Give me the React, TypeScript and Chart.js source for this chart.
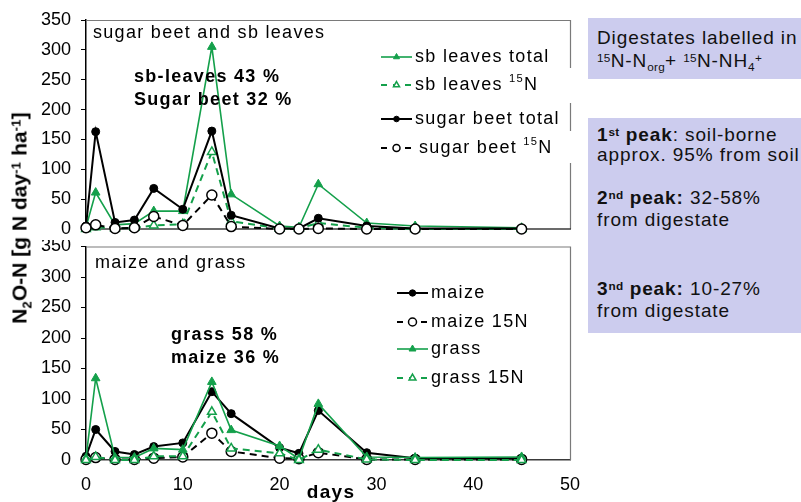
import React, { useEffect, useRef } from 'react';
import { Chart, registerables } from 'chart.js';

Chart.register(...registerables);

const FONT = '"Liberation Sans", Arial, Helvetica, sans-serif';
const GREEN = '#14a04b';
const BLACK = '#000000';
const FRAME = '#7a7a7a';

// ---- data ----
const days = [0, 1, 3, 5, 7, 10, 13, 15, 20, 22, 24, 29, 34, 45];

const sbLeavesTotal = [3, 61, 7, 9, 30, 30, 305, 58, 5, 3, 75, 10, 5, 2];
const sbLeaves15N = [0, 3, 1, 2, 6, 8, 129, 13, 1, 1, 10, 2, 0, 0];
const sugarBeetTotal = [5, 163, 11, 15, 68, 33, 164, 23, 1, 1, 18, 5, 1, 1];
const sugarBeet15N = [2, 7, 1, 2, 21, 6, 57, 4, 0, 0, 1, 0, 0, 0];

const maizeTotal = [6, 50, 14, 9, 22, 28, 112, 76, 20, 11, 81, 12, 3, 3];
const maize15N = [1, 4, 1, 1, 3, 5, 44, 14, 3, 2, 12, 1, 1, 1];
const grassTotal = [3, 134, 4, 4, 19, 17, 128, 49, 23, 2, 92, 5, 4, 5];
const grass15N = [0, 5, 0, 0, 6, 6, 79, 19, 11, 0, 17, 1, 0, 0];

const yTickValues = [0, 50, 100, 150, 200, 250, 300, 350];
const xTickValues = [0, 10, 20, 30, 40, 50];

const topTitle = 'sugar beet and sb leaves';
const topNote = ['sb-leaves 43 %', 'Sugar beet 32 %'];
const bottomTitle = 'maize and grass';
const bottomNote = ['grass 58 %', 'maize 36 %'];
const xTitle = 'days';

type Seg = { t: string; sup?: boolean };

const topLegend: Seg[][] = [
  [{ t: 'sb leaves total' }],
  [{ t: 'sb leaves ' }, { t: '15', sup: true }, { t: 'N' }],
  [{ t: 'sugar beet total' }],
  [{ t: 'sugar beet ' }, { t: '15', sup: true }, { t: 'N' }],
];
const bottomLegend: Seg[][] = [
  [{ t: 'maize' }],
  [{ t: 'maize 15N' }],
  [{ t: 'grass' }],
  [{ t: 'grass 15N' }],
];

// ---- helpers ----
function makeDataset(label: string, values: number[], total: boolean, color: string, style: string, order: number) {
  return {
    label,
    data: days.map((d, i) => ({ x: d, y: values[i] })),
    borderColor: color,
    backgroundColor: color,
    borderWidth: total && color === GREEN ? 1.6 : 2,
    borderDash: total ? [] : [7, 5],
    pointStyle: style,
    pointRadius: style === 'circle' ? (total ? 4 : 5) : 5,
    pointBackgroundColor: total ? color : '#ffffff',
    pointBorderColor: color,
    pointBorderWidth: total ? 1 : 1.5,
    tension: 0,
    clip: false as const,
    order,
  };
}

function drawRich(ctx: any, segs: Seg[], x: number, y: number, size: number, bold: boolean) {
  let cx = x;
  for (const s of segs) {
    const fs = s.sup ? size * 0.62 : size;
    ctx.font = `${bold ? 'bold ' : ''}${fs}px ${FONT}`;
    ctx.fillText(s.t, cx, s.sup ? y - size * 0.33 : y);
    cx += ctx.measureText(s.t).width;
  }
}

function drawMarker(ctx: any, ds: any, x: number, y: number, scale: number) {
  ctx.save();
  ctx.setLineDash([]);
  ctx.fillStyle = ds.pointBackgroundColor;
  ctx.strokeStyle = ds.pointBorderColor;
  ctx.lineWidth = ds.pointBorderWidth;
  const r = ds.pointRadius * scale;
  ctx.beginPath();
  if (ds.pointStyle === 'circle') {
    ctx.arc(x, y, r, 0, Math.PI * 2);
  } else {
    let rad = 0;
    ctx.moveTo(x + Math.sin(rad) * r, y - Math.cos(rad) * r);
    rad += (2 * Math.PI) / 3;
    ctx.lineTo(x + Math.sin(rad) * r, y - Math.cos(rad) * r);
    rad += (2 * Math.PI) / 3;
    ctx.lineTo(x + Math.sin(rad) * r, y - Math.cos(rad) * r);
    ctx.closePath();
  }
  ctx.fill();
  ctx.stroke();
  ctx.restore();
}

interface OverlayCfg {
  id: string;
  bottomLine: boolean;
  legend: Seg[][];
  legendY: number[];
  legendTextX: number[];
  lineX0: number;
  lineX1: number;
  markerScale: number;
  whiteBoxes: [number, number, number, number][];
  title: string;
  titleX: number;
  titleY: number;
  note: string[];
  noteX: number;
  noteY: number[];
  axisTitle?: { text: string; x: number; y: number };
}

function overlayPlugin(cfg: OverlayCfg) {
  return {
    id: cfg.id,
    beforeDatasetsDraw(chart: any) {
      const { ctx, chartArea: a } = chart;
      ctx.save();
      ctx.strokeStyle = FRAME;
      ctx.lineWidth = 1.2;
      ctx.beginPath();
      ctx.moveTo(a.left, a.top + 0.5);
      ctx.lineTo(a.right + 0.5, a.top + 0.5);
      ctx.lineTo(a.right + 0.5, a.bottom);
      ctx.stroke();
      if (cfg.bottomLine) {
        ctx.strokeStyle = '#3a3a3a';
        ctx.lineWidth = 1.5;
        ctx.beginPath();
        ctx.moveTo(a.left, a.bottom);
        ctx.lineTo(a.right + 1, a.bottom);
        ctx.stroke();
      }
      ctx.restore();
    },
    afterDatasetsDraw(chart: any) {
      const { ctx } = chart;
      ctx.save();
      ctx.letterSpacing = '1.3px';
      ctx.textBaseline = 'middle';
      ctx.textAlign = 'left';
      ctx.fillStyle = '#fff';
      cfg.whiteBoxes.forEach(([x, y, w, h]) => ctx.fillRect(x, y, w, h));
      ctx.fillStyle = '#000';
      cfg.legend.forEach((segs, i) => {
        const ds = chart.data.datasets[i];
        const y = cfg.legendY[i];
        ctx.save();
        ctx.strokeStyle = ds.borderColor;
        ctx.lineWidth = ds.borderWidth;
        ctx.setLineDash(ds.borderDash && ds.borderDash.length ? [6, 6] : []);
        ctx.beginPath();
        ctx.moveTo(cfg.lineX0, y);
        ctx.lineTo(cfg.lineX1, y);
        ctx.stroke();
        ctx.restore();
        drawMarker(ctx, ds, (cfg.lineX0 + cfg.lineX1) / 2, y, cfg.markerScale);
        ctx.fillStyle = '#000';
        drawRich(ctx, segs, cfg.legendTextX[i], y, 18, false);
      });
      ctx.font = `18px ${FONT}`;
      ctx.fillText(cfg.title, cfg.titleX, cfg.titleY);
      ctx.font = `bold 18px ${FONT}`;
      cfg.note.forEach((t, i) => ctx.fillText(t, cfg.noteX, cfg.noteY[i]));
      if (cfg.axisTitle) {
        ctx.font = `bold 19px ${FONT}`;
        ctx.textAlign = 'center';
        ctx.fillText(cfg.axisTitle.text, cfg.axisTitle.x, cfg.axisTitle.y);
      }
      ctx.restore();
    },
  };
}

function yScale() {
  return {
    min: 0,
    max: 350,
    afterBuildTicks: (s: any) => {
      s.ticks = yTickValues.map((v) => ({ value: v }));
    },
    afterFit: (s: any) => {
      s.width = 86;
      s.paddingTop = 0;
      s.paddingBottom = 0;
      s.paddingLeft = 0;
      s.paddingRight = 0;
    },
    ticks: { color: '#000', font: { family: FONT, size: 18 }, padding: 10 },
    grid: { drawOnChartArea: false, drawTicks: true, tickLength: 5, color: '#000', lineWidth: 1 },
    border: { display: true, color: '#000', width: 1.5 },
  };
}

function buildConfig(datasets: any[], xScale: any, padding: any, plugin: any) {
  return {
    type: 'line' as const,
    data: { datasets },
    options: {
      responsive: false,
      animation: false as const,
      events: [] as any[],
      layout: { padding },
      plugins: { legend: { display: false }, tooltip: { enabled: false } },
      scales: { x: xScale, y: yScale() },
    },
    plugins: [plugin],
  };
}

export default function App() {
  const topRef = useRef<HTMLCanvasElement>(null);
  const botRef = useRef<HTMLCanvasElement>(null);

  useEffect(() => {
    const topDatasets = [
      makeDataset('sb leaves total', sbLeavesTotal, true, GREEN, 'triangle', 3),
      makeDataset('sb leaves 15N', sbLeaves15N, false, GREEN, 'triangle', 2),
      makeDataset('sugar beet total', sugarBeetTotal, true, BLACK, 'circle', 1),
      makeDataset('sugar beet 15N', sugarBeet15N, false, BLACK, 'circle', 0),
    ];
    const botDatasets = [
      makeDataset('maize', maizeTotal, true, BLACK, 'circle', 3),
      makeDataset('maize 15N', maize15N, false, BLACK, 'circle', 2),
      makeDataset('grass', grassTotal, true, GREEN, 'triangle', 1),
      makeDataset('grass 15N', grass15N, false, GREEN, 'triangle', 0),
    ];

    const topPlugin = overlayPlugin({
      id: 'topOverlay',
      bottomLine: true,
      legend: topLegend,
      legendY: [57, 85, 119, 148],
      legendTextX: [415, 415, 415, 419],
      lineX0: 381,
      lineX1: 412,
      markerScale: 0.7,
      whiteBoxes: [
        [400, 68, 176, 35],
        [400, 131, 176, 32],
      ],
      title: topTitle,
      titleX: 93,
      titleY: 33,
      note: topNote,
      noteX: 134,
      noteY: [77, 100],
    });
    const botPlugin = overlayPlugin({
      id: 'botOverlay',
      bottomLine: false,
      legend: bottomLegend,
      legendY: [53, 82, 109, 138],
      legendTextX: [431, 431, 431, 431],
      lineX0: 397,
      lineX1: 428,
      markerScale: 0.8,
      whiteBoxes: [],
      title: bottomTitle,
      titleX: 95,
      titleY: 23,
      note: bottomNote,
      noteX: 171,
      noteY: [95, 118],
      axisTitle: { text: xTitle, x: 331, y: 253 },
    });

    const topChart = new Chart(
      topRef.current as HTMLCanvasElement,
      buildConfig(topDatasets, { type: 'linear', min: 0, max: 50, display: false }, { left: 0, top: 20, right: 10, bottom: 11 }, topPlugin) as any
    );
    const botChart = new Chart(
      botRef.current as HTMLCanvasElement,
      buildConfig(
        botDatasets,
        {
          type: 'linear',
          min: 0,
          max: 50,
          afterBuildTicks: (s: any) => {
            s.ticks = xTickValues.map((v) => ({ value: v }));
          },
          afterFit: (s: any) => {
            s.height = 42;
            s.paddingTop = 0;
            s.paddingBottom = 0;
            s.paddingLeft = 0;
            s.paddingRight = 0;
          },
          ticks: { color: '#000', font: { family: FONT, size: 18 }, padding: 6, maxRotation: 0 },
          grid: { display: false },
          border: { display: true, color: '#3a3a3a', width: 1.5 },
        },
        { left: 0, top: 6, right: 10, bottom: 0 },
        botPlugin
      ) as any
    );
    return () => {
      topChart.destroy();
      botChart.destroy();
    };
  }, []);

  const boxText: React.CSSProperties = {
    position: 'absolute',
    left: 9,
    height: 24,
    lineHeight: '24px',
    whiteSpace: 'nowrap',
    fontFamily: FONT,
    fontSize: 19,
    letterSpacing: '0.9px',
    color: '#111',
  };
  const sup: React.CSSProperties = { fontSize: '0.62em', position: 'relative', top: '-0.45em', letterSpacing: '0.3px' };
  const sub: React.CSSProperties = { fontSize: '0.62em', position: 'relative', top: '0.35em', letterSpacing: '0.3px' };
  const box: React.CSSProperties = {
    position: 'absolute',
    left: 588,
    width: 213,
    background: '#ccccee',
    overflow: 'hidden',
  };

  return (
    <div style={{ position: 'absolute', left: 0, top: 0, width: 801, height: 502, background: '#fff', overflow: 'hidden' }}>
      <canvas ref={topRef} width={580} height={240} style={{ position: 'absolute', left: 0, top: 0 }} />
      <canvas ref={botRef} width={580} height={262} style={{ position: 'absolute', left: 0, top: 240 }} />
      <div
        style={{
          position: 'absolute',
          left: 21,
          top: 218,
          transform: 'translate(-50%, -50%) rotate(-90deg)',
          whiteSpace: 'nowrap',
          fontFamily: FONT,
          fontWeight: 'bold',
          fontSize: 21,
          lineHeight: '24px',
          color: '#000',
        }}
      >
        N<span style={sub}>2</span>O-N [g N day<span style={sup}>-1</span> ha<span style={sup}>-1</span>]
      </div>
      <div style={{ ...box, top: 18, height: 61 }}>
        <div style={{ ...boxText, top: 38 - 18 - 12 }}>Digestates labelled in</div>
        <div style={{ ...boxText, top: 61 - 18 - 12 }}>
          <span style={sup}>15</span>N-N<span style={sub}>org</span>+ <span style={sup}>15</span>N-NH<span style={sub}>4</span>
          <span style={sup}>+</span>
        </div>
      </div>
      <div style={{ ...box, top: 118, height: 215 }}>
        <div style={{ ...boxText, top: 135 - 118 - 12 }}>
          <b>
            1<span style={sup}>st</span> peak
          </b>
          : soil-borne
        </div>
        <div style={{ ...boxText, top: 155 - 118 - 12 }}>approx. 95% from soil</div>
        <div style={{ ...boxText, top: 198 - 118 - 12 }}>
          <b>
            2<span style={sup}>nd</span> peak:
          </b>{' '}
          32-58%
        </div>
        <div style={{ ...boxText, top: 220 - 118 - 12 }}>from digestate</div>
        <div style={{ ...boxText, top: 289 - 118 - 12 }}>
          <b>
            3<span style={sup}>nd</span> peak:
          </b>{' '}
          10-27%
        </div>
        <div style={{ ...boxText, top: 311 - 118 - 12 }}>from digestate</div>
      </div>
    </div>
  );
}
